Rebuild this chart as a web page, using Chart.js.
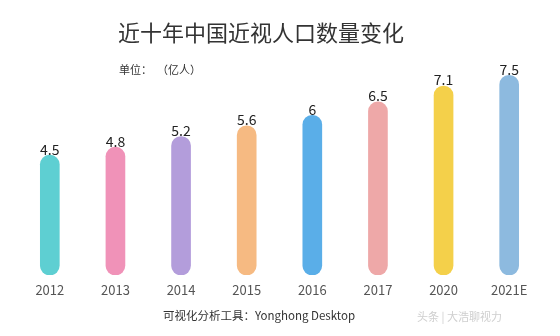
<!DOCTYPE html>
<html>
<head>
<meta charset="utf-8">
<script src="https://cdn.jsdelivr.net/npm/chart.js@4/dist/chart.umd.min.js"></script>
<style>
html,body{margin:0;padding:0;background:#fff;}
#wrap{width:560px;height:336px;position:relative;}
</style>
</head>
<body>
<div id="wrap"><canvas id="c" width="560" height="336"></canvas></div>
<script>
const categories = ['2012','2013','2014','2015','2016','2017','2020','2021E'];
const values = [4.5, 4.8, 5.2, 5.6, 6, 6.5, 7.1, 7.5];
const valueLabels = ['4.5','4.8','5.2','5.6','6','6.5','7.1','7.5'];
const barColors = ['#5ECFD2','#F092B8','#B39DDB','#F6BA82','#5AAEE8','#EEA8A8','#F4D04A','#8DBADF'];
const titleText = '近十年中国近视人口数量变化';
const unitText = '单位：  （亿人）';
const footerText = '可视化分析工具：Yonghong Desktop';
const watermarkText = '头条 | 大浩聊视力';

const FONT = '"Noto Sans CJK SC", "Noto Sans", sans-serif';

const textPlugin = {
  id: 'texts',
  afterDatasetsDraw(chart) {
    const ctx = chart.ctx;
    const xs = chart.scales.x;
    const area = chart.chartArea;
    ctx.save();
    const meta = chart.getDatasetMeta(0);
    ctx.fillStyle = '#222';
    ctx.font = '14px ' + FONT;
    ctx.textAlign = 'center';
    ctx.textBaseline = 'bottom';
    meta.data.forEach((bar, i) => {
      ctx.fillText(valueLabels[i], bar.x, bar.y + 1);
    });
    ctx.fillStyle = '#555';
    ctx.font = '13px ' + FONT;
    ctx.textBaseline = 'middle';
    categories.forEach((c, i) => {
      ctx.fillText(c, xs.getPixelForValue(i), area.bottom + 15);
    });
    ctx.fillStyle = '#333';
    ctx.font = '22px ' + FONT;
    ctx.fillText(titleText, 261, 33);
    ctx.font = '11px ' + FONT;
    ctx.textAlign = 'left';
    ctx.fillText(unitText, 119, 70);
    ctx.font = '11.5px ' + FONT;
    ctx.textAlign = 'center';
    ctx.fillText(footerText, 259, 316);
    ctx.font = '11px ' + FONT;
    ctx.fillStyle = '#cfcfcf';
    ctx.textAlign = 'left';
    ctx.fillText(watermarkText, 417, 317);
    ctx.restore();
  }
};

new Chart(document.getElementById('c'), {
  type: 'bar',
  data: {
    labels: categories,
    datasets: [{
      data: values,
      backgroundColor: barColors,
      barThickness: 19,
      borderRadius: 10,
      borderSkipped: false
    }]
  },
  options: {
    responsive: false,
    animation: false,
    devicePixelRatio: 1,
    layout: { padding: { left: 17, right: 18, top: 62, bottom: 53 } },
    plugins: { legend: { display: false }, tooltip: { enabled: false }, title: { display: false } },
    scales: {
      x: {
        grid: { display: false },
        border: { display: false },
        ticks: { display: false }
      },
      y: {
        display: false,
        min: 0,
        max: 8
      }
    }
  },
  plugins: [textPlugin]
});
</script>
</body>
</html>
